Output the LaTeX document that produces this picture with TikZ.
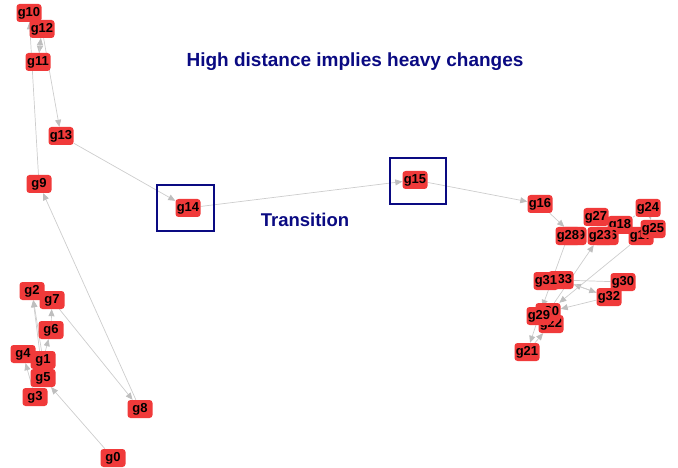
\documentclass[tikz,border=0pt]{standalone}
\usepackage{fontspec}
\setmainfont{Liberation Sans}
\usetikzlibrary{arrows.meta}
\pgfdeclarelayer{edges}
\pgfsetlayers{edges,main}
\definecolor{gnode}{RGB}{240,58,58}
\definecolor{gedge}{RGB}{205,205,205}
\definecolor{gtip}{RGB}{190,190,190}
\definecolor{titleblue}{RGB}{10,10,130}
\tikzset{
  gene/.style={fill=gnode, rounded corners=3pt, inner sep=1.2pt,
    minimum height=18pt, minimum width=25pt,
    font=\fontsize{13}{13}\selectfont\bfseries, text=black},
  link/.style={draw=gedge, line width=0.7pt,
    -{Triangle[length=7pt, width=6pt, color=gtip]}},
  plain/.style={draw=gedge, line width=0.7pt},
  framebox/.style={draw=titleblue, line width=1.4pt},
  caption/.style={text=titleblue, font=\fontsize{18.5}{18.5}\selectfont\bfseries}
}
\begin{document}
\begin{tikzpicture}[x=1pt, y=-1pt]
\useasboundingbox (0,0) rectangle (678,468);

% upper left group
\node[gene] (g10) at (29,13) {g10};
\node[gene] (g12) at (42,29) {g12};
\node[gene] (g11) at (38,62) {g11};
\node[gene] (g13) at (61,136) {g13};
\node[gene] (g9)  at (39,184) {g9};

% transition
\node[gene] (g14) at (188,208) {g14};
\node[gene] (g15) at (415,180) {g15};
\node[gene] (g16) at (540,204) {g16};

% lower left group
\node[gene] (g2) at (32,291) {g2};
\node[gene] (g7) at (52,300) {g7};
\node[gene] (g6) at (51,330) {g6};
\node[gene] (g4) at (23,354) {g4};
\node[gene] (g1) at (43,360) {g1};
\node[gene] (g5) at (43,378) {g5};
\node[gene] (g3) at (35,397) {g3};
\node[gene] (g8) at (140,409) {g8};
\node[gene] (g0) at (113,458) {g0};

% right group (drawn back to front)
\node[gene] (g27) at (596,217) {g27};
\node[gene] (g18) at (620,225) {g18};
\node[gene] (g24) at (648,208) {g24};
\node[gene] (g19) at (574,236) {g19};
\node[gene] (g28) at (568,236) {g28};
\node[gene] (g26) at (606,236) {g26};
\node[gene] (g23) at (600,236) {g23};
\node[gene] (g17) at (641,236) {g17};
\node[gene] (g25) at (653,229) {g25};
\node[gene] (g30) at (623,282) {g30};
\node[gene] (g32) at (609,297) {g32};
\node[gene] (g33) at (561,280) {g33};
\node[gene] (g31) at (546,281) {g31};
\node[gene] (g22) at (551,324) {g22};
\node[gene] (g20) at (548,312) {g20};
\node[gene] (g29) at (539,316) {g29};
\node[gene] (g21) at (527,352) {g21};

% frames and captions
\draw[framebox] (157,185) rectangle (214,231);
\draw[framebox] (390,158) rectangle (446,204);
\node[caption, font=\fontsize{19}{19}\selectfont\bfseries] (title) at (355,62) {High distance implies heavy changes};
\node[caption] (trans) at (305,220) {Transition};

\begin{pgfonlayer}{edges}
  \path[link] (g9) -- (g10);
  \path[link] (g12) -- (g11);
  \path[link] (g11) -- (g12);
  \path[link] (g12) -- (g13);
  \path[link] (g13) -- (g14);
  \path[link] (g8) -- (g9);
  \path[link] (g14) -- (g15);
  \path[link] (g15) -- (g16);
  \path[link] (g16) -- (g19);

  \path[link] (g1) -- (g2);
  \path[link] (g5) -- (g2);
  \path[link] (g1) -- (g6);
  \path[link] (g6) -- (g7);
  \path[link] (g7) -- (g8);
  \path[link] (g3) -- (g4);
  \path[link] (g1) -- (g4);
  \path[link] (g0) -- (g5);

  \path[link] (g28) -- (g29);
  \path[link] (g20) -- (g23);
  \path[link] (g17) -- (g20);
  \path[plain] (g30) -- (g33);
  \path[link] (g32) -- (g33);
  \path[link] (g33) -- (g32);
  \path[link] (g32) -- (g20);
  \path[link] (g29) -- (g21);
  \path[link] (g21) -- (g22);
  \path[plain] (g18) -- (g24);
  \path[link] (g24) -- (g25);
\end{pgfonlayer}
\end{tikzpicture}
\end{document}
